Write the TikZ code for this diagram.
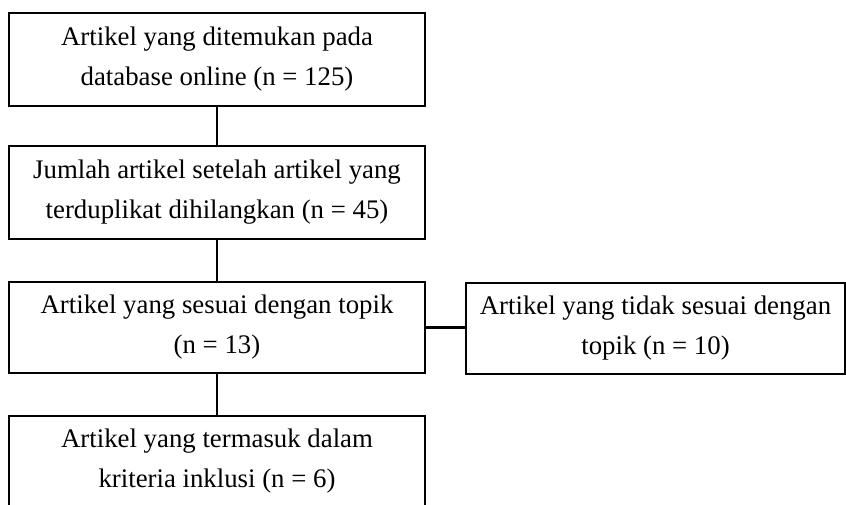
\documentclass[tikz,border=0pt]{standalone}
\usepackage{fontspec}
\setmainfont{Liberation Serif}
\usetikzlibrary{positioning}

\tikzset{
  flowbox/.style={draw, line width=1.1pt, minimum width=208pt, minimum height=46.5pt,
    align=center, inner sep=0pt, font=\fontsize{13.4pt}{20pt}\selectfont},
  link/.style={line width=1.1pt}
}

\begin{document}
\begin{tikzpicture}[x=0.5pt, y=-0.5pt]
  \useasboundingbox (0,0) rectangle (846,504);

  \node [flowbox] (found) at (217,59.5) {Artikel yang ditemukan pada\\database online (n = 125)};
  \node [flowbox] (dedup) at (217,192.5) {Jumlah artikel setelah artikel yang\\terduplikat dihilangkan (n = 45)};
  \node [flowbox, minimum height=45.5pt] (match) at (217,327.5) {Artikel yang sesuai dengan topik\\(n = 13)};
  \node [flowbox, minimum width=189.5pt, minimum height=45.5pt] (nomatch) at (655.5,328.5) {Artikel yang tidak sesuai dengan\\topik (n = 10)};
  \node [flowbox, minimum height=45pt] (incl) at (217,461) {Artikel yang termasuk dalam\\kriteria inklusi (n = 6)};

  \draw [link] (found) -- (dedup);
  \draw [link] (dedup) -- (match);
  \draw [link] (match) -- (incl);
  \draw [link] (match.east) -- (nomatch.west |- match.east);
\end{tikzpicture}
\end{document}
